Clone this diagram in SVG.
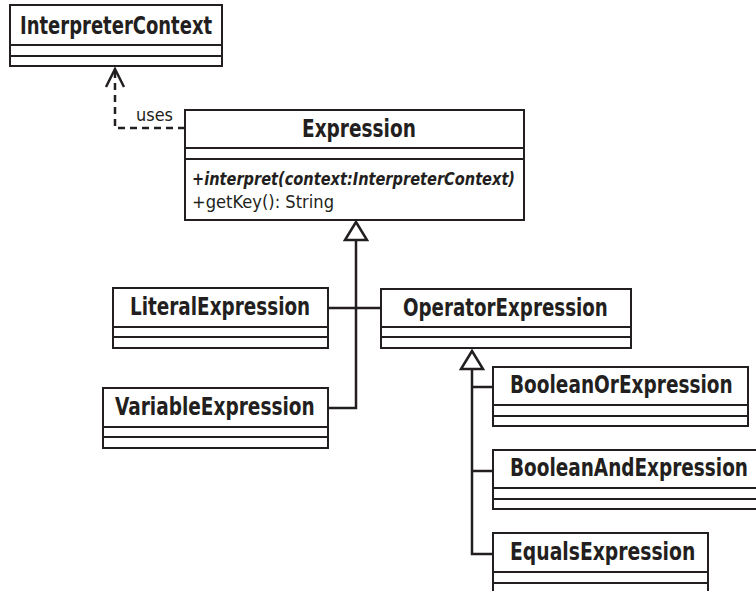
<svg xmlns="http://www.w3.org/2000/svg" width="756" height="591" viewBox="0 0 756 591">
<style>
.box{fill:#fff;stroke:#231f20;stroke-width:2}
.div{stroke:#231f20;stroke-width:2}
.t{font-family:"Liberation Sans Narrow","DejaVu Sans Condensed","Liberation Sans",sans-serif;font-weight:bold;font-size:24px;fill:#231f20}
.m{font-family:"Liberation Sans Narrow","DejaVu Sans Condensed","Liberation Sans",sans-serif;font-size:18px;fill:#231f20}
.line{fill:none;stroke:#231f20;stroke-width:2.5}
.dash{fill:none;stroke:#231f20;stroke-width:2.5;stroke-dasharray:7 5}
.tri{fill:#fff;stroke:#231f20;stroke-width:2.5}
</style>
<rect width="756" height="591" fill="#fff"/>
<g id="connectors">
<path class="dash" d="M185,128 H115 V70"/>
<path class="line" d="M106,87 L115,69 L124,87"/>
<text class="m" x="136" y="121" textLength="37" lengthAdjust="spacingAndGlyphs">uses</text>
<path class="line" d="M356,240 V408 H328"/>
<path class="line" d="M328,308 H381"/>
<polygon class="tri" points="356,222 345,240 367,240"/>
<path class="line" d="M472,369 V554 H493"/>
<path class="line" d="M472,387 H493"/>
<path class="line" d="M472,471 H493"/>
<polygon class="tri" points="472,351 461,369 483,369"/>
</g>
<g id="InterpreterContext">
<rect class="box" x="10" y="5" width="212" height="61"/>
<line class="div" x1="10" y1="45" x2="222" y2="45"/>
<line class="div" x1="10" y1="56" x2="222" y2="56"/>
<text class="t" transform="translate(20,34) scale(0.85,1)" textLength="226" lengthAdjust="spacingAndGlyphs">InterpreterContext</text>
</g>
<g id="Expression">
<rect class="box" x="185" y="110" width="339" height="110"/>
<line class="div" x1="185" y1="148" x2="524" y2="148"/>
<line class="div" x1="185" y1="159" x2="524" y2="159"/>
<text class="t" transform="translate(302,137) scale(0.85,1)" textLength="134" lengthAdjust="spacingAndGlyphs">Expression</text>
<text class="m" x="192" y="185" font-weight="bold" font-style="italic" textLength="323" lengthAdjust="spacingAndGlyphs">+interpret(context:InterpreterContext)</text>
<text class="m" x="192" y="208" textLength="142" lengthAdjust="spacingAndGlyphs">+getKey(): String</text>
</g>
<g id="LiteralExpression">
<rect class="box" x="113" y="288" width="215" height="60"/>
<line class="div" x1="113" y1="327" x2="328" y2="327"/>
<line class="div" x1="113" y1="337" x2="328" y2="337"/>
<text class="t" transform="translate(130,315) scale(0.85,1)" textLength="212" lengthAdjust="spacingAndGlyphs">LiteralExpression</text>
</g>
<g id="VariableExpression">
<rect class="box" x="103" y="388" width="225" height="60"/>
<line class="div" x1="103" y1="427" x2="328" y2="427"/>
<line class="div" x1="103" y1="437" x2="328" y2="437"/>
<text class="t" transform="translate(115,415) scale(0.85,1)" textLength="235" lengthAdjust="spacingAndGlyphs">VariableExpression</text>
</g>
<g id="OperatorExpression">
<rect class="box" x="381" y="289" width="250" height="59"/>
<line class="div" x1="381" y1="327" x2="631" y2="327"/>
<line class="div" x1="381" y1="337" x2="631" y2="337"/>
<text class="t" transform="translate(403,316) scale(0.85,1)" textLength="241" lengthAdjust="spacingAndGlyphs">OperatorExpression</text>
</g>
<g id="BooleanOrExpression">
<rect class="box" x="493" y="367" width="255" height="59"/>
<line class="div" x1="493" y1="405" x2="748" y2="405"/>
<line class="div" x1="493" y1="416" x2="748" y2="416"/>
<text class="t" transform="translate(510,393) scale(0.85,1)" textLength="262" lengthAdjust="spacingAndGlyphs">BooleanOrExpression</text>
</g>
<g id="BooleanAndExpression">
<rect class="box" x="493" y="450" width="280" height="59"/>
<line class="div" x1="493" y1="488" x2="773" y2="488"/>
<line class="div" x1="493" y1="499" x2="773" y2="499"/>
<text class="t" transform="translate(510,476) scale(0.85,1)" textLength="280" lengthAdjust="spacingAndGlyphs">BooleanAndExpression</text>
</g>
<g id="EqualsExpression">
<rect class="box" x="493" y="533" width="215" height="65"/>
<line class="div" x1="493" y1="572" x2="708" y2="572"/>
<line class="div" x1="493" y1="583" x2="708" y2="583"/>
<text class="t" transform="translate(510,560) scale(0.85,1)" textLength="218" lengthAdjust="spacingAndGlyphs">EqualsExpression</text>
</g>
</svg>
